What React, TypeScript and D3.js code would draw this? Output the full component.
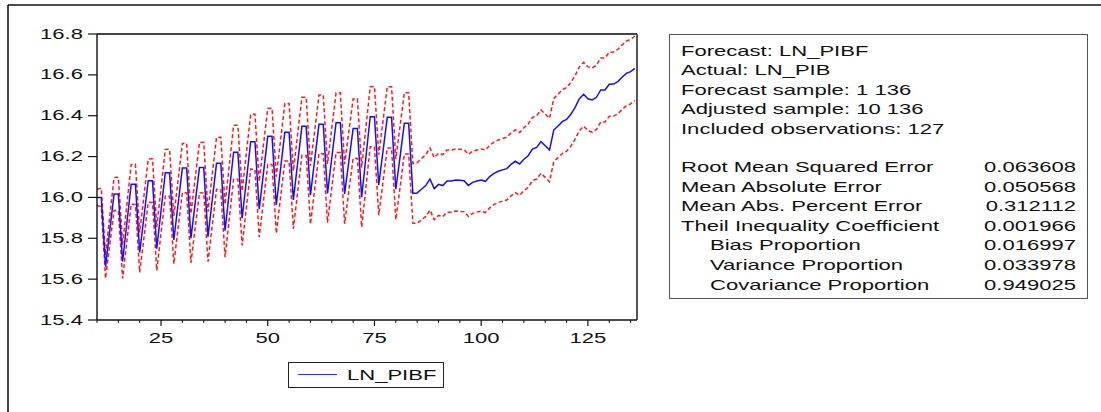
import React from "react";
import * as d3 from "d3";

const FIRST_OBS = 10;
const LAST_OBS = 136;

// LN_PIBF forecast, observations 10..136
const forecast: number[] = [
  16.000, 16.000, 15.661, 15.840, 16.017, 16.017, 15.686, 15.875, 16.064, 16.064,
  15.731, 15.905, 16.082, 16.082, 15.749, 15.935, 16.121, 16.121, 15.792, 15.968,
  16.144, 16.144, 15.800, 15.973, 16.146, 16.146, 15.808, 15.988, 16.167, 16.167,
  15.837, 16.029, 16.221, 16.221, 15.898, 16.085, 16.273, 16.273, 15.942, 16.120,
  16.299, 16.299, 15.963, 16.140, 16.319, 16.319, 15.988, 16.168, 16.348, 16.348,
  16.012, 16.185, 16.358, 16.358, 16.020, 16.193, 16.366, 16.366, 16.017, 16.177,
  16.337, 16.337, 16.001, 16.198, 16.395, 16.395, 16.061, 16.226, 16.392, 16.392,
  16.040, 16.200, 16.363, 16.363,
  16.020, 16.022, 16.040, 16.058, 16.090, 16.043, 16.064, 16.058, 16.080, 16.080,
  16.085, 16.084, 16.082, 16.059, 16.074, 16.080, 16.085, 16.079, 16.102, 16.118,
  16.128, 16.135, 16.141, 16.162, 16.177, 16.164, 16.187, 16.204, 16.237, 16.245,
  16.273, 16.253, 16.232, 16.330, 16.350, 16.371, 16.382, 16.407, 16.441, 16.483,
  16.505, 16.483, 16.477, 16.490, 16.526, 16.526, 16.554, 16.555, 16.567, 16.588,
  16.607, 16.616, 16.632,
];

// ± 2 S.E. half-width of the forecast band, observations 10..136
const twoSE: number[] = [
  0.040, 0.045, 0.057, 0.070, 0.080, 0.082, 0.083, 0.090, 0.097, 0.098,
  0.098, 0.102, 0.106, 0.107, 0.106, 0.110, 0.114, 0.115, 0.117, 0.118,
  0.120, 0.121, 0.120, 0.121, 0.123, 0.124, 0.122, 0.125, 0.127, 0.128,
  0.129, 0.130, 0.132, 0.132, 0.133, 0.134, 0.134, 0.135, 0.136, 0.137,
  0.137, 0.138, 0.139, 0.140, 0.141, 0.141, 0.141, 0.142, 0.142, 0.143,
  0.143, 0.143, 0.143, 0.144, 0.144, 0.145, 0.146, 0.146, 0.146, 0.145,
  0.145, 0.146, 0.146, 0.147, 0.147, 0.148, 0.148, 0.149, 0.150, 0.150,
  0.149, 0.150, 0.150, 0.150,
  0.146, 0.148, 0.150, 0.151, 0.152, 0.152, 0.152, 0.152, 0.152, 0.152,
  0.152, 0.152, 0.152, 0.152, 0.152, 0.152, 0.152, 0.153, 0.153, 0.153,
  0.153, 0.153, 0.154, 0.154, 0.154, 0.154, 0.154, 0.155, 0.155, 0.155,
  0.155, 0.155, 0.155, 0.155, 0.155, 0.156, 0.156, 0.156, 0.156, 0.156,
  0.156, 0.156, 0.157, 0.157, 0.157, 0.157, 0.157, 0.157, 0.158, 0.158,
  0.158, 0.158, 0.158,
];

const yTicks = [15.4, 15.6, 15.8, 16.0, 16.2, 16.4, 16.6, 16.8];
const xMajorTicks = [25, 50, 75, 100, 125];
const xMinorStep = 5;

const legendLabel = "LN_PIBF";

const headerLines = [
  "Forecast: LN_PIBF",
  "Actual: LN_PIB",
  "Forecast sample: 1 136",
  "Adjusted sample: 10 136",
  "Included observations: 127",
];
const statLabels = [
  "Root Mean Squared Error",
  "Mean Absolute Error",
  "Mean Abs. Percent Error",
  "Theil Inequality Coefficient",
  "Bias Proportion",
  "Variance Proportion",
  "Covariance Proportion",
];
const statValues = ["0.063608", "0.050568", "0.312112", "0.001966", "0.016997", "0.033978", "0.949025"];
const statIndented = [false, false, false, false, true, true, true];

const FONT = "'Liberation Sans', Arial, Helvetica, sans-serif";
const SX = 1.47;
const FS = 15;

function T({ x, y, anchor = "start", children }: { x: number; y: number; anchor?: string; children: React.ReactNode }) {
  return (
    <text
      transform={`translate(${x},${y}) scale(${SX},1)`}
      textAnchor={anchor as any}
      fontFamily={FONT}
      fontSize={FS}
      fill="#111"
    >
      {children}
    </text>
  );
}

export default function App() {
  const W = 1101;
  const H = 412;
  const x = d3.scaleLinear().domain([FIRST_OBS, LAST_OBS + 0.5]).range([97, 637]);
  const y = d3.scaleLinear().domain([15.4, 16.8]).range([320, 34]);

  const data = forecast.map((v, i) => ({ t: FIRST_OBS + i, v, d: twoSE[i] }));
  const line = d3.line<{ t: number; v: number }>().x((p) => x(p.t)).y((p) => y(p.v));
  const fPath = line(data.map((p) => ({ t: p.t, v: p.v })))!;
  const uPath = line(data.map((p) => ({ t: p.t, v: p.v + p.d })))!;
  const lPath = line(data.map((p) => ({ t: p.t, v: p.v - p.d })))!;

  const minorTicks = d3.range(FIRST_OBS, LAST_OBS + 1, xMinorStep).filter((t) => !xMajorTicks.includes(t));

  const [x0, x1] = x.range();
  const [yb, yt] = y.range();

  const boxX = 669, boxY = 34, boxW = 418, boxH = 264;
  const lineH = 19.6;

  return (
    <svg width={W} height={H} style={{ position: "absolute", left: 0, top: 0, background: "#fff" }}>
      <rect x={0} y={0} width={W} height={H} fill="#fff" />
      {/* outer frame */}
      <line x1={8} y1={5} x2={W} y2={5} stroke="#111" strokeWidth={1.6} />
      <line x1={8} y1={5} x2={8} y2={H} stroke="#111" strokeWidth={1.6} />

      {/* plot area */}
      <defs>
        <clipPath id="plotclip">
          <rect x={x0} y={yt} width={x1 - x0} height={yb - yt} />
        </clipPath>
      </defs>
      <g clipPath="url(#plotclip)">
        <path d={uPath} fill="none" stroke="#ff1a1a" strokeWidth={1.5} strokeDasharray="4,2.5" />
        <path d={lPath} fill="none" stroke="#ff1a1a" strokeWidth={1.5} strokeDasharray="4,2.5" />
        <path d={fPath} fill="none" stroke="#1010ff" strokeWidth={1.5} />
      </g>
      <line x1={x0} y1={yt} x2={x1} y2={yt} stroke="#444" strokeWidth={1.8} />
      <line x1={x1} y1={yt} x2={x1} y2={yb} stroke="#444" strokeWidth={1.8} />
      <line x1={x0} y1={yt} x2={x0} y2={yb} stroke="#111" strokeWidth={1.4} />
      <line x1={x0} y1={yb} x2={x1} y2={yb} stroke="#111" strokeWidth={1.4} />

      {/* y axis */}
      {yTicks.map((v) => (
        <g key={v}>
          <line x1={x0 - 9} x2={x0} y1={y(v)} y2={y(v)} stroke="#111" strokeWidth={1.2} />
          <T x={83} y={y(v) + 4.5} anchor="end">{v.toFixed(1)}</T>
        </g>
      ))}

      {/* x axis */}
      {minorTicks.map((t) => (
        <line key={t} x1={x(t)} x2={x(t)} y1={yb} y2={yb + 3} stroke="#111" strokeWidth={1} />
      ))}
      {xMajorTicks.map((t) => (
        <g key={t}>
          <line x1={x(t)} x2={x(t)} y1={yb} y2={yb + 6} stroke="#111" strokeWidth={1.2} />
          <T x={x(t)} y={yb + 23} anchor="middle">{String(t)}</T>
        </g>
      ))}

      {/* legend */}
      <rect x={288.5} y={362.5} width={155} height={25} fill="#fff" stroke="#222" strokeWidth={1} />
      <line x1={298} x2={337} y1={374.5} y2={374.5} stroke="#3333ff" strokeWidth={1} />
      <T x={347} y={380}>{legendLabel}</T>

      {/* stats box */}
      <rect x={boxX + 0.5} y={boxY + 0.5} width={boxW} height={boxH} fill="#fff" stroke="#555" strokeWidth={1} />
      {headerLines.map((s, i) => (
        <T key={s} x={681} y={55.5 + i * lineH}>{s}</T>
      ))}
      {statLabels.map((s, i) => (
        <g key={s}>
          <T x={statIndented[i] ? 710 : 681} y={172 + i * lineH}>{s}</T>
          <T x={1076} y={172 + i * lineH} anchor="end">{statValues[i]}</T>
        </g>
      ))}
    </svg>
  );
}
